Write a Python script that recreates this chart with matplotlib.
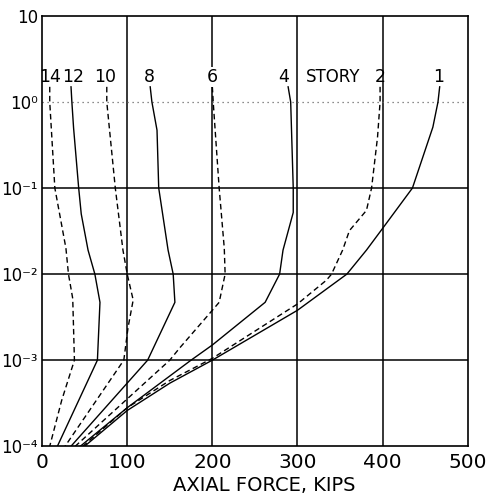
import matplotlib
matplotlib.use('Agg')
import matplotlib.pyplot as plt
from matplotlib.ticker import FixedLocator, NullLocator

# ---- data ----
x_ticks = [0, 100, 200, 300, 400, 500]
x_tick_labels = ['0', '100', '200', '300', '400', '500']
y_ticks = [1e-4, 1e-3, 1e-2, 1e-1, 1e0, 1e1]
y_tick_labels = ['10⁻⁴', '10⁻³', '10⁻²', '10⁻¹', '10⁰', '10']

story14_x = [9, 9, 15, 28, 31, 36, 38, 23, 9]
story14_y = [1.5, 1.0, 0.1, 0.02, 0.01, 0.0052, 0.001, 3.4e-4, 1e-4]

story12_x = [34, 35, 37, 43, 46, 54, 62, 68, 65, 18]
story12_y = [1.5, 1.0, 0.5, 0.1, 0.05, 0.019, 0.01, 0.0047, 0.001, 1e-4]

story10_x = [76, 76, 86, 95, 100, 107, 101, 96, 27]
story10_y = [1.5, 1.0, 0.1, 0.019, 0.01, 0.005, 0.0024, 0.001, 1e-4]

story8_x = [127, 129, 135, 137, 148, 154, 156, 124, 34]
story8_y = [1.5, 1.0, 0.47, 0.1, 0.019, 0.01, 0.0047, 0.001, 1e-4]

story6_x = [200, 201, 208, 214, 215, 208, 200, 162, 150, 39]
story6_y = [1.5, 1.0, 0.1, 0.02, 0.01, 0.0047, 0.0038, 0.0014, 0.001, 1e-4]

story4_x = [289, 292, 295, 295, 283, 279, 262, 200, 175, 100, 45]
story4_y = [1.5, 1.0, 0.1, 0.052, 0.019, 0.01, 0.0047, 0.0015, 0.001, 2.8e-4, 1e-4]

story2_x = [397, 397, 394, 387, 381, 361, 353, 340, 334, 300, 200, 150, 100, 48]
story2_y = [1.5, 1.0, 0.39, 0.1, 0.055, 0.032, 0.019, 0.01, 0.0085, 0.0045,
            0.00105, 5.8e-4, 2.8e-4, 1e-4]

story1_x = [467, 465, 459, 435, 400, 381, 358, 300, 200, 150, 100, 50]
story1_y = [1.5, 1.0, 0.51, 0.1, 0.034, 0.019, 0.01, 0.0038, 0.001, 5.4e-4, 2.6e-4, 1e-4]

label_texts = ['14', '12', '10', '8', '6', '4', 'STORY', '2', '1']
label_x = [9, 36, 74, 126, 200, 284, 342, 397, 466]
label_y = 1.95

curves = [
    (story14_x, story14_y, 'dashed'),
    (story12_x, story12_y, 'solid'),
    (story10_x, story10_y, 'dashed'),
    (story8_x, story8_y, 'solid'),
    (story6_x, story6_y, 'dashed'),
    (story4_x, story4_y, 'solid'),
    (story2_x, story2_y, 'dashed'),
    (story1_x, story1_y, 'solid'),
]

# ---- figure ----
plt.rcParams['font.family'] = ['DejaVu Sans']
fig = plt.figure(figsize=(4.95, 4.98), dpi=100)
ax = fig.add_axes([0.085, 0.104, 0.860, 0.864])
ax.set_yscale('log')
ax.set_xlim(0, 500)
ax.set_ylim(1e-4, 10)

# grid
for gx in x_ticks[1:-1]:
    ax.axvline(gx, color='black', lw=1.1, zorder=1)
for gy in y_ticks[1:4]:
    ax.axhline(gy, color='black', lw=1.1, zorder=1)
ax.axhline(y_ticks[4], color='#666666', lw=0.9, linestyle=(0, (1, 3)), zorder=1)

for xs, ys, st in curves:
    if st == 'dashed':
        ax.plot(xs, ys, color='black', lw=1.0, linestyle=(0, (4, 2.5)), zorder=3)
    else:
        ax.plot(xs, ys, color='black', lw=1.0, zorder=3)

for t, lx in zip(label_texts, label_x):
    fs = 12 if t == 'STORY' else 12.5
    kw = {}
    if t == '6':
        kw['bbox'] = dict(facecolor='white', edgecolor='none', pad=0.5)
    ax.text(lx, label_y, t, ha='center', va='center', fontsize=fs,
            color='black', zorder=4, **kw)

ax.xaxis.set_major_locator(FixedLocator(x_ticks))
ax.set_xticklabels(x_tick_labels)
ax.yaxis.set_major_locator(FixedLocator(y_ticks))
ax.yaxis.set_minor_locator(NullLocator())
ax.set_yticklabels(y_tick_labels)
ax.tick_params(axis='x', length=0, pad=5, labelsize=14.5)
ax.tick_params(axis='y', length=0, pad=3, labelsize=12)
for s in ax.spines.values():
    s.set_linewidth(1.2)
    s.set_color('black')

fig.text(264 / 495, 1 - 485 / 498, 'AXIAL FORCE, KIPS', ha='center', va='center',
         fontsize=14)

fig.savefig('out.png', dpi=100, facecolor='white')
